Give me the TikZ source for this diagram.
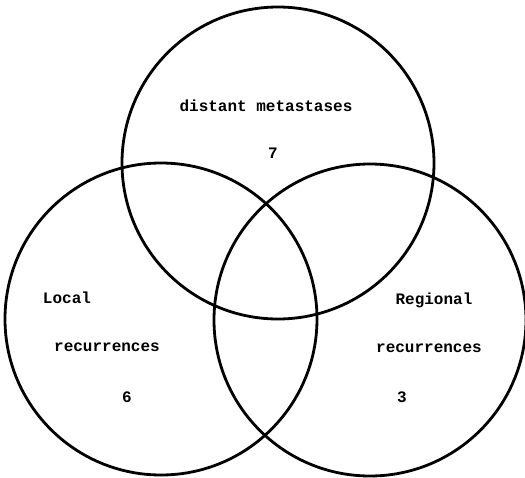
\documentclass[tikz,border=0pt]{standalone}
\usepackage{fontspec}
\setmonofont{Liberation Mono}
\begin{document}
\begin{tikzpicture}[x=1pt,y=-1pt]

\def\rad{156}
\tikzstyle{ring} = [draw, line width=2.8pt];
\tikzstyle{lbl} = [draw=none, fill=none, inner sep=0pt,
	font=\ttfamily\bfseries\fontsize{16}{18}\selectfont];
\useasboundingbox (0,0) rectangle (525,477);

% the three sets
\coordinate (cdist) at (278,163);
\coordinate (cloc) at (161,319);
\coordinate (creg) at (370,320);
\draw[ring] (cdist) circle (\rad);
\draw[ring] (cloc) circle (\rad);
\draw[ring] (creg) circle (\rad);

\node[lbl] (dist) at (266,106) {distant metastases};
\node[lbl] (n7) at (273,153) {7};

\node[lbl] (loc) at (67,298) {Local};
\node[lbl] (locrec) at (107,347) {recurrences};
\node[lbl] (n6) at (127,397) {6};

\node[lbl] (reg) at (434,300) {Regional};
\node[lbl] (regrec) at (429,348) {recurrences};
\node[lbl] (n3) at (402,397) {3};

\end{tikzpicture}
\end{document}
